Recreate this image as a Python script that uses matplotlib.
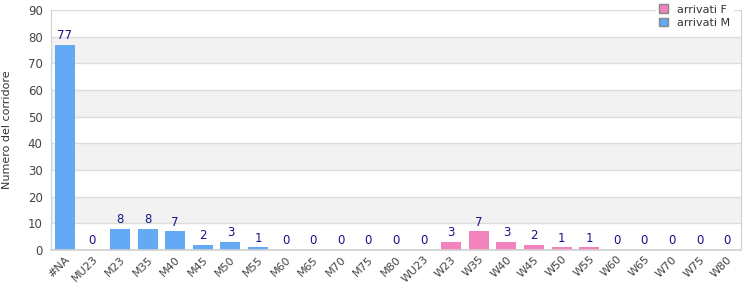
import matplotlib.pyplot as plt
from matplotlib.patches import Patch

men_cats = ["#NA", "MU23", "M23", "M35", "M40", "M45", "M50", "M55",
            "M60", "M65", "M70", "M75", "M80", "WU23"]
men_vals = [77, 0, 8, 8, 7, 2, 3, 1, 0, 0, 0, 0, 0, 0]
women_cats = ["W23", "W35", "W40", "W45", "W50", "W55", "W60", "W65",
              "W70", "W75", "W80"]
women_vals = [3, 7, 3, 2, 1, 1, 0, 0, 0, 0, 0]

col_m = "#63a9f3"
col_f = "#f283bd"
lbl_col = "#141488"

fig = plt.figure(figsize=(7.5, 3), dpi=100)
ax = fig.add_axes([0.068, 0.1667, 0.92, 0.80])

# alternating bands
for lo in range(10, 90, 20):
    ax.axhspan(lo, lo + 10, color="#f2f2f2", zorder=0, lw=0)
for y in range(10, 91, 10):
    ax.axhline(y, color="#dcdcdc", lw=1, zorder=1)

bm = ax.bar(men_cats, men_vals, width=0.72, color=col_m, zorder=2)
bf = ax.bar(women_cats, women_vals, width=0.72, color=col_f, zorder=2)
ax.bar_label(bm, padding=2, fontsize=8.5, color=lbl_col)
ax.bar_label(bf, padding=2, fontsize=8.5, color=lbl_col)

ax.set_xlim(-0.5, len(men_cats) + len(women_cats) - 0.5)
ax.set_ylim(0, 90)
ax.set_yticks(range(0, 91, 10))
ax.tick_params(axis="y", length=0, labelsize=8.5, labelcolor="#444444", pad=6)
ax.tick_params(axis="x", length=0, labelsize=8, labelcolor="#444444", pad=3)
plt.setp(ax.get_xticklabels(), rotation=45, ha="right", rotation_mode="anchor")

for s in ["left", "right", "bottom"]:
    ax.spines[s].set_color("#d0d0d0")
ax.spines["top"].set_visible(False)
ax.spines["bottom"].set_linewidth(1.2)

ax.set_ylabel("Numero del corridore", fontsize=8, color="#333333")
ax.yaxis.set_label_coords(-0.057, 0.5)

handles = [Patch(facecolor=col_f, edgecolor="#888888", label="arrivati F"),
           Patch(facecolor=col_m, edgecolor="#888888", label="arrivati M")]
leg = fig.legend(handles=handles, loc="upper right", bbox_to_anchor=(0.985, 1.015),
                 fontsize=8, frameon=True, handlelength=0.8, handleheight=0.8,
                 handletextpad=0.8, labelspacing=0.3, borderpad=0.3)
leg.get_frame().set_edgecolor("white")
leg.get_frame().set_facecolor("white")
leg.get_frame().set_alpha(1)
for t in leg.get_texts():
    t.set_color("#333333")

fig.savefig("out.png", dpi=100)
